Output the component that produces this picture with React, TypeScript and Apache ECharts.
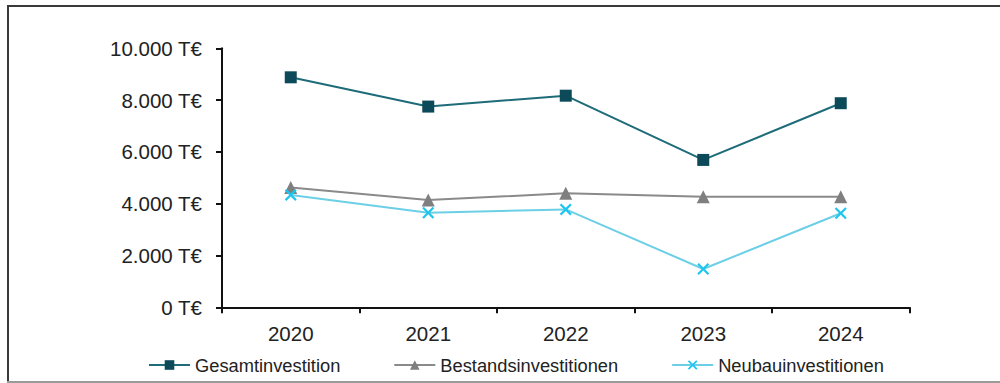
import React, { useEffect, useRef } from "react";
import * as echarts from "echarts";

const years = ["2020", "2021", "2022", "2023", "2024"];
const gesamt = [8880, 7750, 8170, 5690, 7880];
const bestand = [4630, 4140, 4400, 4270, 4270];
const neubau = [4340, 3650, 3780, 1480, 3630];
const seriesNames = ["Gesamtinvestition", "Bestandsinvestitionen", "Neubauinvestitionen"];

const FONT = "'Liberation Sans', Arial, sans-serif";
const CROSS =
  "path://M0,1.3L1.3,0L5,3.7L8.7,0L10,1.3L6.3,5L10,8.7L8.7,10L5,6.3L1.3,10L0,8.7L3.7,5Z";

const fmt = (v: number) =>
  String(v).replace(/\B(?=(\d{3})+(?!\d))/g, ".") + " T€";

export default function App() {
  const ref = useRef<HTMLDivElement>(null);
  useEffect(() => {
    if (!ref.current) return;
    const chart = echarts.init(ref.current, null, { renderer: "svg" });
    chart.setOption({
      animation: false,
      backgroundColor: "#ffffff",
      textStyle: { fontFamily: FONT },
      grid: { left: 222, right: 90.5, top: 48.3, bottom: 75.7 },
      legend: {
        left: 148,
        top: 356,
        padding: 0,
        itemWidth: 41,
        itemHeight: 12,
        itemGap: 53,
        textStyle: { fontSize: 18.3, color: "#222", fontFamily: FONT },
        data: seriesNames,
      },
      xAxis: {
        type: "category",
        data: years,
        boundaryGap: true,
        axisLine: { lineStyle: { color: "#111", width: 2 } },
        axisTick: { show: true, length: 6, lineStyle: { color: "#111", width: 2 } },
        axisLabel: { fontSize: 20.5, color: "#222", margin: 16, fontFamily: FONT },
        splitLine: { show: false },
      },
      yAxis: {
        type: "value",
        min: 0,
        max: 10000,
        interval: 2000,
        axisLine: { show: true, lineStyle: { color: "#111", width: 2 } },
        axisTick: { show: true, length: 6, lineStyle: { color: "#111", width: 2 } },
        axisLabel: { fontSize: 20.5, color: "#222", margin: 20, formatter: fmt, fontFamily: FONT },
        splitLine: { show: false },
      },
      series: [
        {
          name: seriesNames[0],
          type: "line",
          data: gesamt,
          symbol: "rect",
          symbolSize: 12,
          lineStyle: { color: "#1e6b79", width: 2 },
          itemStyle: { color: "#0c4a59" },
        },
        {
          name: seriesNames[1],
          type: "line",
          data: bestand,
          symbol: "triangle",
          symbolSize: 13,
          lineStyle: { color: "#8a8a8a", width: 2 },
          itemStyle: { color: "#7f7f7f" },
        },
        {
          name: seriesNames[2],
          type: "line",
          data: neubau,
          symbol: CROSS,
          symbolSize: 12,
          lineStyle: { color: "#6ccfe6", width: 2 },
          itemStyle: { color: "#1ec6ee" },
        },
      ],
      graphic: [
        { type: "line", shape: { x1: 7, y1: 6, x2: 1000, y2: 6 }, style: { stroke: "#3a3a3a", lineWidth: 2 } },
        { type: "line", shape: { x1: 8, y1: 5, x2: 8, y2: 383 }, style: { stroke: "#3a3a3a", lineWidth: 2 } },
        { type: "line", shape: { x1: 7, y1: 382, x2: 1000, y2: 382 }, style: { stroke: "#9a9a9a", lineWidth: 2 } },
      ],
    });
    return () => chart.dispose();
  }, []);
  return (
    <div
      ref={ref}
      style={{ position: "fixed", left: 0, top: 0, width: 1000, height: 383 }}
    />
  );
}
